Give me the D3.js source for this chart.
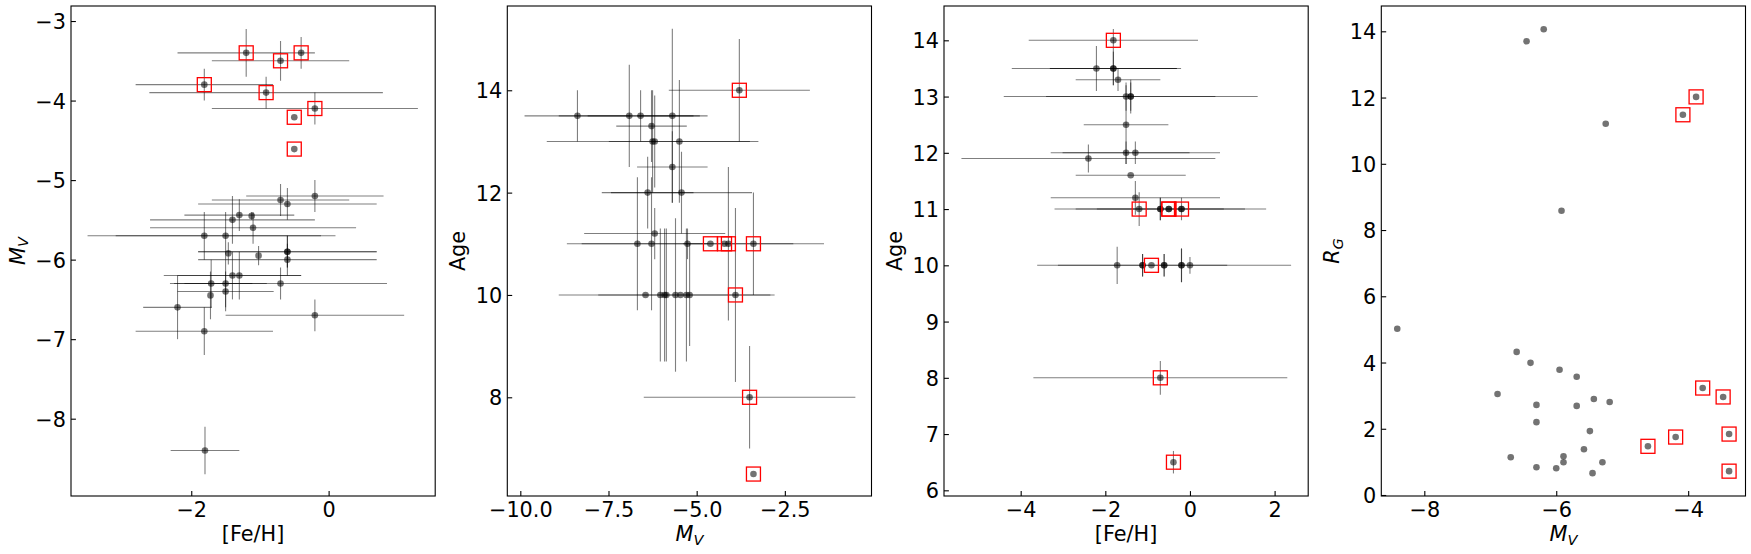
<!DOCTYPE html>
<html>
<head>
<meta charset="utf-8">
<title>Clusters: M_V, [Fe/H], Age, R_G</title>
<script src="https://d3js.org/d3.v7.min.js"></script>
<style>
  body { margin: 0; background: #fff; }
  svg text { font-family: "DejaVu Sans", sans-serif; }
</style>
</head>
<body>
<script>

var W = 1751, H = 554;
var top0 = 6, ph = 490, pw = 364.2;
var lefts = [71, 507.3, 944, 1381.3];
var fs = 20.8; // 15pt at 100 dpi

// ---- panel 1: M_V against [Fe/H] ----
// first 25 points plain, last 8 boxed
var p1Feh    = [-0.2, -0.7, -0.6, -1.3, -1.12, -1.4, -1.1, -1.81, -1.5, -1.46, -1.02, -0.6, -0.6, -0.6, -1.4, -1.3, -1.71, -1.5, -0.7, -1.72, -1.5, -2.2, -0.2, -1.81, -1.8,
                -1.2, -0.7, -0.4, -1.81, -0.91, -0.2, -0.5, -0.5];
var p1Mv     = [-5.2, -5.25, -5.3, -5.44, -5.45, -5.5, -5.6, -5.7, -5.7, -5.92, -5.95, -5.9, -5.9, -6.0, -6.2, -6.2, -6.3, -6.3, -6.3, -6.45, -6.4, -6.6, -6.7, -6.9, -8.4,
                -3.4, -3.5, -3.4, -3.8, -3.9, -4.1, -4.21, -4.61];
var p1FehErr = [1.0, 1.0, 1.3, 0.8, 0, 1.2, 1.5, 1.7, 1.6, 0, 0, 1.3, 1.3, 1.3, 1.0, 0.9, 0.6, 0.6, 1.55, 0, 0.7, 0.5, 1.3, 1.0, 0.5,
                1.0, 1.0, 0, 1.0, 1.7, 1.5, 0, 0];
var p1MvErr  = [0.2, 0.2, 0.2, 0.2, 0.05, 0.3, 0.2, 0.3, 0.3, 0.14, 0.12, 0.2, 0.2, 0.2, 0.3, 0.3, 0.3, 0.3, 0.2, 0.3, 0.25, 0.4, 0.2, 0.3, 0.3,
                0.3, 0.25, 0.2, 0.2, 0.2, 0.2, 0, 0];
var p1Boxed  = [0,0,0,0,0,0,0,0,0,0,0,0,0,0,0,0,0,0,0,0,0,0,0,0,0, 1,1,1,1,1,1,1,1];
var p1XTicks = [-2, 0];
var p1YTicks = [-3, -4, -5, -6, -7, -8];

// ---- panel 2: Age against M_V ----
var p2Mv     = [-8.38, -6.91, -6.59, -5.69, -6.28, -6.25, -6.19, -5.49, -5.69, -6.39, -5.43, -6.19, -6.68, -6.28, -5.26, -6.45, -6.03, -5.91, -5.86, -5.6, -5.46, -5.29, -5.2,
                -3.79, -4.61, -4.21, -4.1, -3.39, -3.9, -3.5, -3.39];
var p2Age    = [13.5, 13.5, 13.5, 13.5, 13.3, 13.0, 13.0, 13.0, 12.5, 12.0, 12.0, 11.2, 11.0, 11.0, 11.0, 10, 10, 10, 10, 10, 10, 10, 10,
                14, 11, 11, 11, 11, 10, 8, 6.5];
var p2MvErr  = [1.5, 2.0, 1.5, 1.0, 1.0, 3.0, 0, 2.0, 1.0, 1.3, 2.0, 2.0, 2.0, 0, 3.0, 0, 0, 3.0, 0, 0, 0, 2.5, 0,
                2.0, 0, 0, 0, 2.0, 0, 3.0, 0];
var p2AgeErr = [0.5, 1.0, 0.5, 1.7, 0.7, 1.0, 0.9, 1.2, 0.7, 0.7, 0.8, 0.5, 1.3, 1.3, 0.3, 0, 1.3, 1.3, 1.3, 1.5, 0, 1.3, 1.0,
                1.0, 0, 0, 1.5, 1.0, 1.7, 1.0, 0];
var p2Boxed  = [0,0,0,0,0,0,0,0,0,0,0,0,0,0,0,0,0,0,0,0,0,0,0, 1,1,1,1,1,1,1,1];
var p2XTicks = [-10, -7.5, -5, -2.5];
var p2YTicks = [8, 10, 12, 14];

// ---- panel 3: Age against [Fe/H] ----
var p3Feh    = [-2.21, -1.81, -1.81, -1.7, -1.51, -1.4, -1.4, -1.51, -1.51, -1.29, -2.4, -1.4, -1.29, -0.7, -0.7, -0.2, -1.72, -1.12, -1.12, -0.61, -0.61, -0.2, -0.2, 0.0,
                -1.81, -1.2, -0.5, -0.5, -0.2, -0.91, -0.7, -0.39];
var p3Age    = [13.5, 13.5, 13.5, 13.3, 13.0, 13.0, 13.0, 12.5, 12.0, 12.0, 11.9, 11.6, 11.2, 11, 11, 11, 10, 10, 10, 10, 10, 10, 10, 10,
                14, 11, 11, 11, 11, 10, 8, 6.5];
var p3FehErr = [2.0, 1.5, 1.5, 1.0, 0, 3.0, 2.0, 1.0, 1.5, 2.0, 3.0, 1.3, 2.0, 2.0, 0, 2.0, 0, 2.0, 0, 3.0, 0, 0, 0, 0,
                2.0, 2.0, 0, 0, 0, 0, 3.0, 0];
var p3AgeErr = [0.4, 0.3, 0.3, 0.2, 0.25, 0.25, 0.3, 0.7, 0.2, 0.2, 0.25, 0, 0.3, 0.2, 0.2, 0.2, 0.33, 0.2, 0.2, 0.2, 0.2, 0.3, 0.3, 0.15,
                0.2, 0.3, 0, 0, 0, 0, 0.3, 0.2];
var p3Boxed  = [0,0,0,0,0,0,0,0,0,0,0,0,0,0,0,0,0,0,0,0,0,0,0,0, 1,1,1,1,1,1,1,1];
var p3XTicks = [-4, -2, 0, 2];
var p3YTicks = [6, 7, 8, 9, 10, 11, 12, 13, 14];

// ---- panel 4: R_G against M_V (no error bars) ----
var p4Mv    = [-6.45, -6.19, -5.92, -5.25, -8.41, -6.6, -6.39, -5.95, -5.69, -6.89, -6.3, -5.69, -5.43, -5.19, -6.3, -5.49, -5.58, -6.69, -5.89, -5.89, -6.3, -6.0, -5.45, -5.3,
               -4.08, -3.88, -3.78, -3.47, -4.61, -4.19, -3.38, -3.38];
var p4Rg    = [13.7, 14.06, 8.58, 11.21, 5.02, 4.32, 3.99, 3.78, 3.57, 3.05, 2.72, 2.69, 2.90, 2.81, 2.2, 1.93, 1.38, 1.14, 1.17, 0.99, 0.84, 0.81, 0.66, 0.99,
               11.48, 12.02, 3.23, 2.96, 1.47, 1.75, 1.84, 0.72];
var p4Boxed = [0,0,0,0,0,0,0,0,0,0,0,0,0,0,0,0,0,0,0,0,0,0,0,0, 1,1,1,1,1,1,1,1];
var p4XTicks = [-8, -6, -4];
var p4YTicks = [0, 2, 4, 6, 8, 10, 12, 14];

var svg = d3.select("body").append("svg")
  .attr("width", W).attr("height", H);

// label helper: plain text or an italic symbol with a subscript
function setLabel(t, lab) {
  if (typeof lab === "string") { t.text(lab); return; }
  t.append("tspan").attr("font-style", "italic").text(lab[0]);
  t.append("tspan").attr("font-style", "italic")
    .attr("font-size", fs * 0.7).attr("dy", 3.6).text(lab[1]);
}

function drawPanel(i, o) {
  var g = svg.append("g").attr("transform", "translate(" + lefts[i] + "," + top0 + ")");
  var x = d3.scaleLinear().domain(o.xDomain).range([0, pw]);
  var y = d3.scaleLinear().domain(o.yDomain).range([ph, 0]);

  g.append("clipPath").attr("id", "clip" + i)
    .append("rect").attr("width", pw).attr("height", ph);

  var pts = o.x.map(function(d, k) {
    return { x: d, y: o.y[k],
             xe: o.xe ? o.xe[k] : 0, ye: o.ye ? o.ye[k] : 0,
             box: o.box[k] };
  });

  var plot = g.append("g").attr("clip-path", "url(#clip" + i + ")");

  // error bars first, then markers on top
  plot.selectAll("line.xe").data(pts.filter(function(d) { return d.xe > 0; }))
    .enter().append("line").attr("class", "xe")
    .attr("x1", function(d) { return x(d.x - d.xe); })
    .attr("x2", function(d) { return x(d.x + d.xe); })
    .attr("y1", function(d) { return y(d.y); })
    .attr("y2", function(d) { return y(d.y); })
    .attr("stroke", "#000").attr("stroke-opacity", 0.5).attr("stroke-width", 1.1);

  plot.selectAll("line.ye").data(pts.filter(function(d) { return d.ye > 0; }))
    .enter().append("line").attr("class", "ye")
    .attr("x1", function(d) { return x(d.x); })
    .attr("x2", function(d) { return x(d.x); })
    .attr("y1", function(d) { return y(d.y - d.ye); })
    .attr("y2", function(d) { return y(d.y + d.ye); })
    .attr("stroke", "#000").attr("stroke-opacity", 0.5).attr("stroke-width", 1.1);

  plot.selectAll("circle").data(pts).enter().append("circle")
    .attr("cx", function(d) { return x(d.x); })
    .attr("cy", function(d) { return y(d.y); })
    .attr("r", 3.3)
    .attr("fill", "#000").attr("fill-opacity", 0.55);

  plot.selectAll("rect.box").data(pts.filter(function(d) { return d.box; }))
    .enter().append("rect").attr("class", "box")
    .attr("x", function(d) { return x(d.x) - 7; })
    .attr("y", function(d) { return y(d.y) - 7; })
    .attr("width", 14).attr("height", 14)
    .attr("fill", "none").attr("stroke", "#ff0000").attr("stroke-width", 1.3);

  // axes, ticks pointing inward
  var xa = g.append("g").attr("transform", "translate(0," + ph + ")")
    .call(d3.axisBottom(x).tickValues(o.xTicks).tickFormat(d3.format(o.xFmt))
      .tickSizeInner(-4.9).tickSizeOuter(0).tickPadding(6.2));
  var ya = g.append("g")
    .call(d3.axisLeft(y).tickValues(o.yTicks).tickFormat(d3.format(o.yFmt))
      .tickSizeInner(-4.9).tickSizeOuter(0).tickPadding(5));
  [xa, ya].forEach(function(a) {
    a.select(".domain").remove();
    a.selectAll(".tick line").attr("stroke", "#000").attr("stroke-width", 1.1);
    a.selectAll(".tick text").attr("font-size", fs).attr("fill", "#000")
      .attr("font-family", "DejaVu Sans");
  });
  ya.selectAll(".tick text").attr("dy", "0.36em");

  g.append("rect").attr("width", pw).attr("height", ph)
    .attr("fill", "none").attr("stroke", "#000").attr("stroke-width", 1.1);

  // x label
  var xl = g.append("text").attr("x", pw / 2).attr("y", ph + 45)
    .attr("text-anchor", "middle").attr("font-size", fs);
  setLabel(xl, o.xLabel);

  // y label sits left of the widest tick label
  var minX = 0;
  ya.selectAll(".tick text").each(function() {
    var b = this.getBBox();
    minX = Math.min(minX, b.x);
  });
  var bx = minX - 10.5;
  var yl = g.append("text")
    .attr("transform", "translate(" + bx + "," + (ph / 2) + ") rotate(-90)")
    .attr("text-anchor", "middle").attr("font-size", fs);
  setLabel(yl, o.yLabel);
}

drawPanel(0, { x: p1Feh, y: p1Mv, xe: p1FehErr, ye: p1MvErr, box: p1Boxed,
  xDomain: [-3.751, 1.552], yDomain: [-8.972, -2.811],
  xTicks: p1XTicks, yTicks: p1YTicks, xFmt: "d", yFmt: "d",
  xLabel: "[Fe/H]", yLabel: ["M", "V"] });

drawPanel(1, { x: p2Mv, y: p2Age, xe: p2MvErr, ye: p2AgeErr, box: p2Boxed,
  xDomain: [-10.369, -0.043], yDomain: [6.071, 15.647],
  xTicks: p2XTicks, yTicks: p2YTicks, xFmt: ".1f", yFmt: "d",
  xLabel: ["M", "V"], yLabel: "Age" });

drawPanel(2, { x: p3Feh, y: p3Age, xe: p3FehErr, ye: p3AgeErr, box: p3Boxed,
  xDomain: [-5.812, 2.794], yDomain: [5.899, 14.61],
  xTicks: p3XTicks, yTicks: p3YTicks, xFmt: "d", yFmt: "d",
  xLabel: "[Fe/H]", yLabel: "Age" });

drawPanel(3, { x: p4Mv, y: p4Rg, box: p4Boxed,
  xDomain: [-8.652, -3.131], yDomain: [-0.03, 14.764],
  xTicks: p4XTicks, yTicks: p4YTicks, xFmt: "d", yFmt: "d",
  xLabel: ["M", "V"], yLabel: ["R", "G"] });

</script>
</body>
</html>
